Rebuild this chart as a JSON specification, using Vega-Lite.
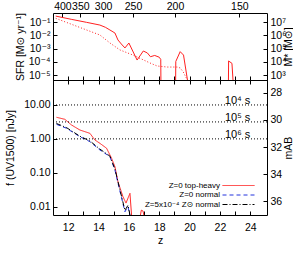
{
  "$schema": "https://vega.github.io/schema/vega-lite/v6.json",
  "width": 214,
  "height": 202,
  "autosize": {"type": "none"},
  "padding": {"left": 53, "top": 13, "right": 26, "bottom": 40},
  "config": {
    "view": {"stroke": "black", "strokeWidth": 1},
    "font": "Liberation Sans",
    "axis": {
      "grid": false, "domain": false, "tickColor": "black", "tickSize": -4, "tickWidth": 1,
      "labelColor": "black", "titleColor": "black", "labelFont": "Liberation Sans, DejaVu Sans",
      "titleFont": "Liberation Sans, DejaVu Sans", "labelFontSize": 10.5, "titleFontSize": 10.5,
      "titleFontWeight": "normal", "labelPadding": 7, "labelOverlap": false, "labelFlush": false
    },
    "legend": {"labelFont": "Liberation Sans, DejaVu Sans", "labelColor": "black"}
  },
  "datasets": {
    "sfr": [
      {"seg": 1, "z": 11.18, "sfr": 0.28}, {"seg": 1, "z": 12.2, "sfr": 0.16}, {"seg": 1, "z": 13.2, "sfr": 0.095}, {"seg": 1, "z": 14.09, "sfr": 0.059},
      {"seg": 1, "z": 14.45, "sfr": 0.04}, {"seg": 1, "z": 14.75, "sfr": 0.025}, {"seg": 1, "z": 15.08, "sfr": 0.0148}, {"seg": 1, "z": 15.28, "sfr": 0.0044},
      {"seg": 1, "z": 15.5, "sfr": 0.0022}, {"seg": 1, "z": 15.74, "sfr": 0.0011}, {"seg": 1, "z": 16.0, "sfr": 0.0026}, {"seg": 1, "z": 16.54, "sfr": 0.000135},
      {"seg": 1, "z": 16.95, "sfr": 0.00065}, {"seg": 1, "z": 17.22, "sfr": 0.00046}, {"seg": 1, "z": 17.42, "sfr": 0.00024}, {"seg": 1, "z": 17.7, "sfr": 0.0003},
      {"seg": 1, "z": 18.0, "sfr": 0.00022}, {"seg": 1, "z": 18.1, "sfr": 0.00015}, {"seg": 1, "z": 18.11, "sfr": 0.0000042},
      {"seg": 2, "z": 19.08, "sfr": 0.0000042}, {"seg": 2, "z": 19.09, "sfr": 0.000105}, {"seg": 2, "z": 19.38, "sfr": 0.00058}, {"seg": 2, "z": 19.6, "sfr": 0.00032}, {"seg": 2, "z": 19.86, "sfr": 0.0000042},
      {"seg": 3, "z": 22.56, "sfr": 0.0000042}, {"seg": 3, "z": 22.57, "sfr": 0.000115}, {"seg": 3, "z": 22.79, "sfr": 0.000076}, {"seg": 3, "z": 22.86, "sfr": 0.0000042}
    ],
    "mstar": [
      {"z": 11.18, "mstar": 19000000}, {"z": 12.6, "mstar": 4600000}, {"z": 14.09, "mstar": 1050000}, {"z": 14.75, "mstar": 263000},
      {"z": 15.41, "mstar": 78000}, {"z": 16.27, "mstar": 32000}, {"z": 17.39, "mstar": 8100}, {"z": 17.86, "mstar": 4800},
      {"z": 18.52, "mstar": 4000}, {"z": 19.18, "mstar": 4000}, {"z": 19.38, "mstar": 3400}, {"z": 19.58, "mstar": 1700},
      {"z": 19.85, "mstar": 420}
    ],
    "flux": [
      {"model": "Z=0 top-heavy", "z": 11.23, "flux": 4.34}, {"model": "Z=0 top-heavy", "z": 11.78, "flux": 3.78},
      {"model": "Z=0 top-heavy", "z": 12.22, "flux": 2.57}, {"model": "Z=0 top-heavy", "z": 12.77, "flux": 1.83},
      {"model": "Z=0 top-heavy", "z": 13.43, "flux": 1.46}, {"model": "Z=0 top-heavy", "z": 13.76, "flux": 0.93},
      {"model": "Z=0 top-heavy", "z": 14.09, "flux": 0.74}, {"model": "Z=0 top-heavy", "z": 14.53, "flux": 0.53},
      {"model": "Z=0 top-heavy", "z": 14.86, "flux": 0.268}, {"model": "Z=0 top-heavy", "z": 15.08, "flux": 0.151},
      {"model": "Z=0 top-heavy", "z": 15.28, "flux": 0.0546}, {"model": "Z=0 top-heavy", "z": 15.61, "flux": 0.0197},
      {"model": "Z=0 top-heavy", "z": 15.81, "flux": 0.0128}, {"model": "Z=0 top-heavy", "z": 16.07, "flux": 0.0248},
      {"model": "Z=0 top-heavy", "z": 16.2, "flux": 0.004}, {"model": "Z=0 top-heavy", "z": 16.7, "flux": 0.004},
      {"model": "Z=0 top-heavy", "z": 16.82, "flux": 0.0079}, {"model": "Z=0 top-heavy", "z": 16.93, "flux": 0.0075},
      {"model": "Z=0 top-heavy", "z": 17.05, "flux": 0.004},
      {"model": "Z=0 normal", "z": 11.23, "flux": 2.69}, {"model": "Z=0 normal", "z": 11.89, "flux": 2.06},
      {"model": "Z=0 normal", "z": 12.77, "flux": 1.16}, {"model": "Z=0 normal", "z": 13.43, "flux": 0.83},
      {"model": "Z=0 normal", "z": 14.09, "flux": 0.471}, {"model": "Z=0 normal", "z": 14.75, "flux": 0.3},
      {"model": "Z=0 normal", "z": 15.08, "flux": 0.121}, {"model": "Z=0 normal", "z": 15.28, "flux": 0.05},
      {"model": "Z=0 normal", "z": 15.74, "flux": 0.0071}, {"model": "Z=0 normal", "z": 15.94, "flux": 0.01},
      {"model": "Z=0 normal", "z": 16.14, "flux": 0.004},
      {"model": "Z=5x10⁻⁴ Z⊙ normal", "z": 11.23, "flux": 2.85}, {"model": "Z=5x10⁻⁴ Z⊙ normal", "z": 11.89, "flux": 2.15},
      {"model": "Z=5x10⁻⁴ Z⊙ normal", "z": 12.77, "flux": 1.2}, {"model": "Z=5x10⁻⁴ Z⊙ normal", "z": 13.43, "flux": 0.87},
      {"model": "Z=5x10⁻⁴ Z⊙ normal", "z": 14.09, "flux": 0.5}, {"model": "Z=5x10⁻⁴ Z⊙ normal", "z": 14.75, "flux": 0.31},
      {"model": "Z=5x10⁻⁴ Z⊙ normal", "z": 15.08, "flux": 0.13}, {"model": "Z=5x10⁻⁴ Z⊙ normal", "z": 15.28, "flux": 0.055},
      {"model": "Z=5x10⁻⁴ Z⊙ normal", "z": 15.74, "flux": 0.0078}, {"model": "Z=5x10⁻⁴ Z⊙ normal", "z": 15.94, "flux": 0.011},
      {"model": "Z=5x10⁻⁴ Z⊙ normal", "z": 16.14, "flux": 0.004}
    ],
    "limits": [
      {"mag": 28.9, "label": "10⁴ s"},
      {"mag": 30.15, "label": "10⁵ s"},
      {"mag": 31.4, "label": "10⁶ s"}
    ]
  },
  "layer": [
    {
      "data": {"name": "sfr"},
      "mark": {"type": "line", "color": "#ff2020", "strokeWidth": 1, "clip": true},
      "encoding": {
        "x": {
          "field": "z", "type": "quantitative",
          "scale": {"domain": [11, 25.1], "nice": false, "zero": false},
          "axis": {
            "orient": "top", "title": null, "labelPadding": 7.5, "labelBaseline": "alphabetic",
            "values": [11.62, 12.8, 14.3, 16.27, 19.04, 23.28],
            "labelExpr": "datum.value < 12 ? '400' : datum.value < 13 ? '350' : datum.value < 15 ? '300' : datum.value < 17 ? '250' : datum.value < 20 ? '200' : '150'"
          }
        },
        "y": {
          "field": "sfr", "type": "quantitative",
          "scale": {"type": "log", "domain": [0.0000042, 0.479], "range": [67, 0], "nice": false},
          "axis": {
            "orient": "left", "values": [0.00001, 0.0001, 0.001, 0.01, 0.1],
            "labelExpr": "'10' + (datum.value > 0.05 ? '⁻¹' : datum.value > 0.005 ? '⁻²' : datum.value > 0.0005 ? '⁻³' : datum.value > 0.00005 ? '⁻⁴' : '⁻⁵')",
            "title": "SFR [M⊙ yr⁻¹]", "titleX": -28, "titleAngle": -90, "titleBaseline": "bottom"
          }
        },
        "detail": {"field": "seg", "type": "nominal"}
      }
    },
    {
      "data": {"name": "mstar"},
      "mark": {"type": "line", "color": "#ff2020", "strokeWidth": 1, "strokeDash": [1, 2], "clip": true},
      "encoding": {
        "x": {
          "field": "z", "type": "quantitative",
          "axis": {"orient": "bottom", "offset": -135, "title": null, "labels": false, "domain": true, "domainColor": "black",
                   "values": [12, 13, 14, 15, 16, 17, 18, 19, 20, 21, 22, 23, 24]}
        },
        "y": {
          "field": "mstar", "type": "quantitative",
          "scale": {"type": "log", "domain": [420, 47900000], "range": [67, 0], "nice": false},
          "axis": {
            "orient": "right", "values": [1000, 10000, 100000, 1000000, 10000000],
            "labelExpr": "'10' + (datum.value < 5000 ? '³' : datum.value < 50000 ? '⁴' : datum.value < 500000 ? '⁵' : datum.value < 5000000 ? '⁶' : '⁷')",
            "title": "M* [M⊙]", "titleX": 16, "titleAngle": -90, "titleBaseline": "top"
          }
        }
      }
    },
    {
      "data": {"name": "flux"},
      "mark": {"type": "line", "strokeWidth": 1, "clip": true},
      "encoding": {
        "x": {
          "field": "z", "type": "quantitative",
          "axis": {"orient": "bottom", "title": "z", "labelPadding": 11, "titlePadding": 3,
                   "values": [12, 13, 14, 15, 16, 17, 18, 19, 20, 21, 22, 23, 24],
                   "labelExpr": "datum.value % 2 == 0 ? datum.value : ''"}
        },
        "y": {
          "field": "flux", "type": "quantitative",
          "scale": {"type": "log", "domain": [0.00569, 54.6], "range": [202, 67], "nice": false},
          "axis": {"orient": "left", "values": [0.01, 0.1, 1, 10], "format": ".2f",
                   "title": "f (UV1500) [nJy]", "titleX": -38, "titleAngle": -90, "titleBaseline": "bottom"}
        },
        "color": {
          "field": "model", "type": "nominal",
          "scale": {"domain": ["Z=0 top-heavy", "Z=0 normal", "Z=5x10⁻⁴ Z⊙ normal"], "range": ["#ff2020", "#2233dd", "black"]},
          "legend": {"orient": "none", "legendX": 169, "legendY": 168, "title": null, "symbolType": "M-4,0H4",
                     "symbolSize": 64, "symbolStrokeWidth": 1, "symbolFillColor": "transparent", "labelAlign": "right",
                     "symbolOffset": 12, "labelOffset": -23,
                     "labelFontSize": 8, "rowPadding": 0.5, "padding": 0, "offset": 0}
        },
        "strokeDash": {
          "field": "model", "type": "nominal",
          "scale": {"domain": ["Z=0 top-heavy", "Z=0 normal", "Z=5x10⁻⁴ Z⊙ normal"], "range": [[1, 0], [4, 3], [5, 2, 1, 2]]},
          "legend": {"orient": "none", "legendX": 169, "legendY": 168, "title": null, "symbolType": "M-4,0H4",
                     "symbolSize": 64, "symbolStrokeWidth": 1, "symbolFillColor": "transparent", "labelAlign": "right",
                     "symbolOffset": 12, "labelOffset": -23,
                     "labelFontSize": 8, "rowPadding": 0.5, "padding": 0, "offset": 0}
        }
      }
    },
    {
      "data": {"name": "limits"},
      "layer": [
        {
          "mark": {"type": "rule", "color": "black", "strokeDash": [1, 2], "strokeWidth": 1},
          "encoding": {
            "y": {
              "field": "mag", "type": "quantitative",
              "scale": {"domain": [27.06, 37.01], "range": [67, 202], "nice": false, "zero": false},
              "axis": {"orient": "right", "values": [28, 30, 32, 34, 36], "title": "mAB",
                       "titleX": 16, "titleAngle": -90, "titleBaseline": "top"}
            }
          }
        },
        {
          "mark": {"type": "text", "align": "right", "baseline": "alphabetic", "dy": -1, "fontSize": 11, "font": "Liberation Sans, DejaVu Sans", "color": "black"},
          "encoding": {
            "x": {"datum": 24.0, "type": "quantitative",
                  "axis": {"orient": "top", "offset": -67, "title": null, "labels": false,
                           "values": [12, 13, 14, 15, 16, 17, 18, 19, 20, 21, 22, 23, 24]}},
            "y": {"field": "mag", "type": "quantitative"},
            "text": {"field": "label"}
          }
        }
      ]
    }
  ],
  "resolve": {"scale": {"y": "independent"}, "axis": {"x": "independent", "y": "independent"}}
}
